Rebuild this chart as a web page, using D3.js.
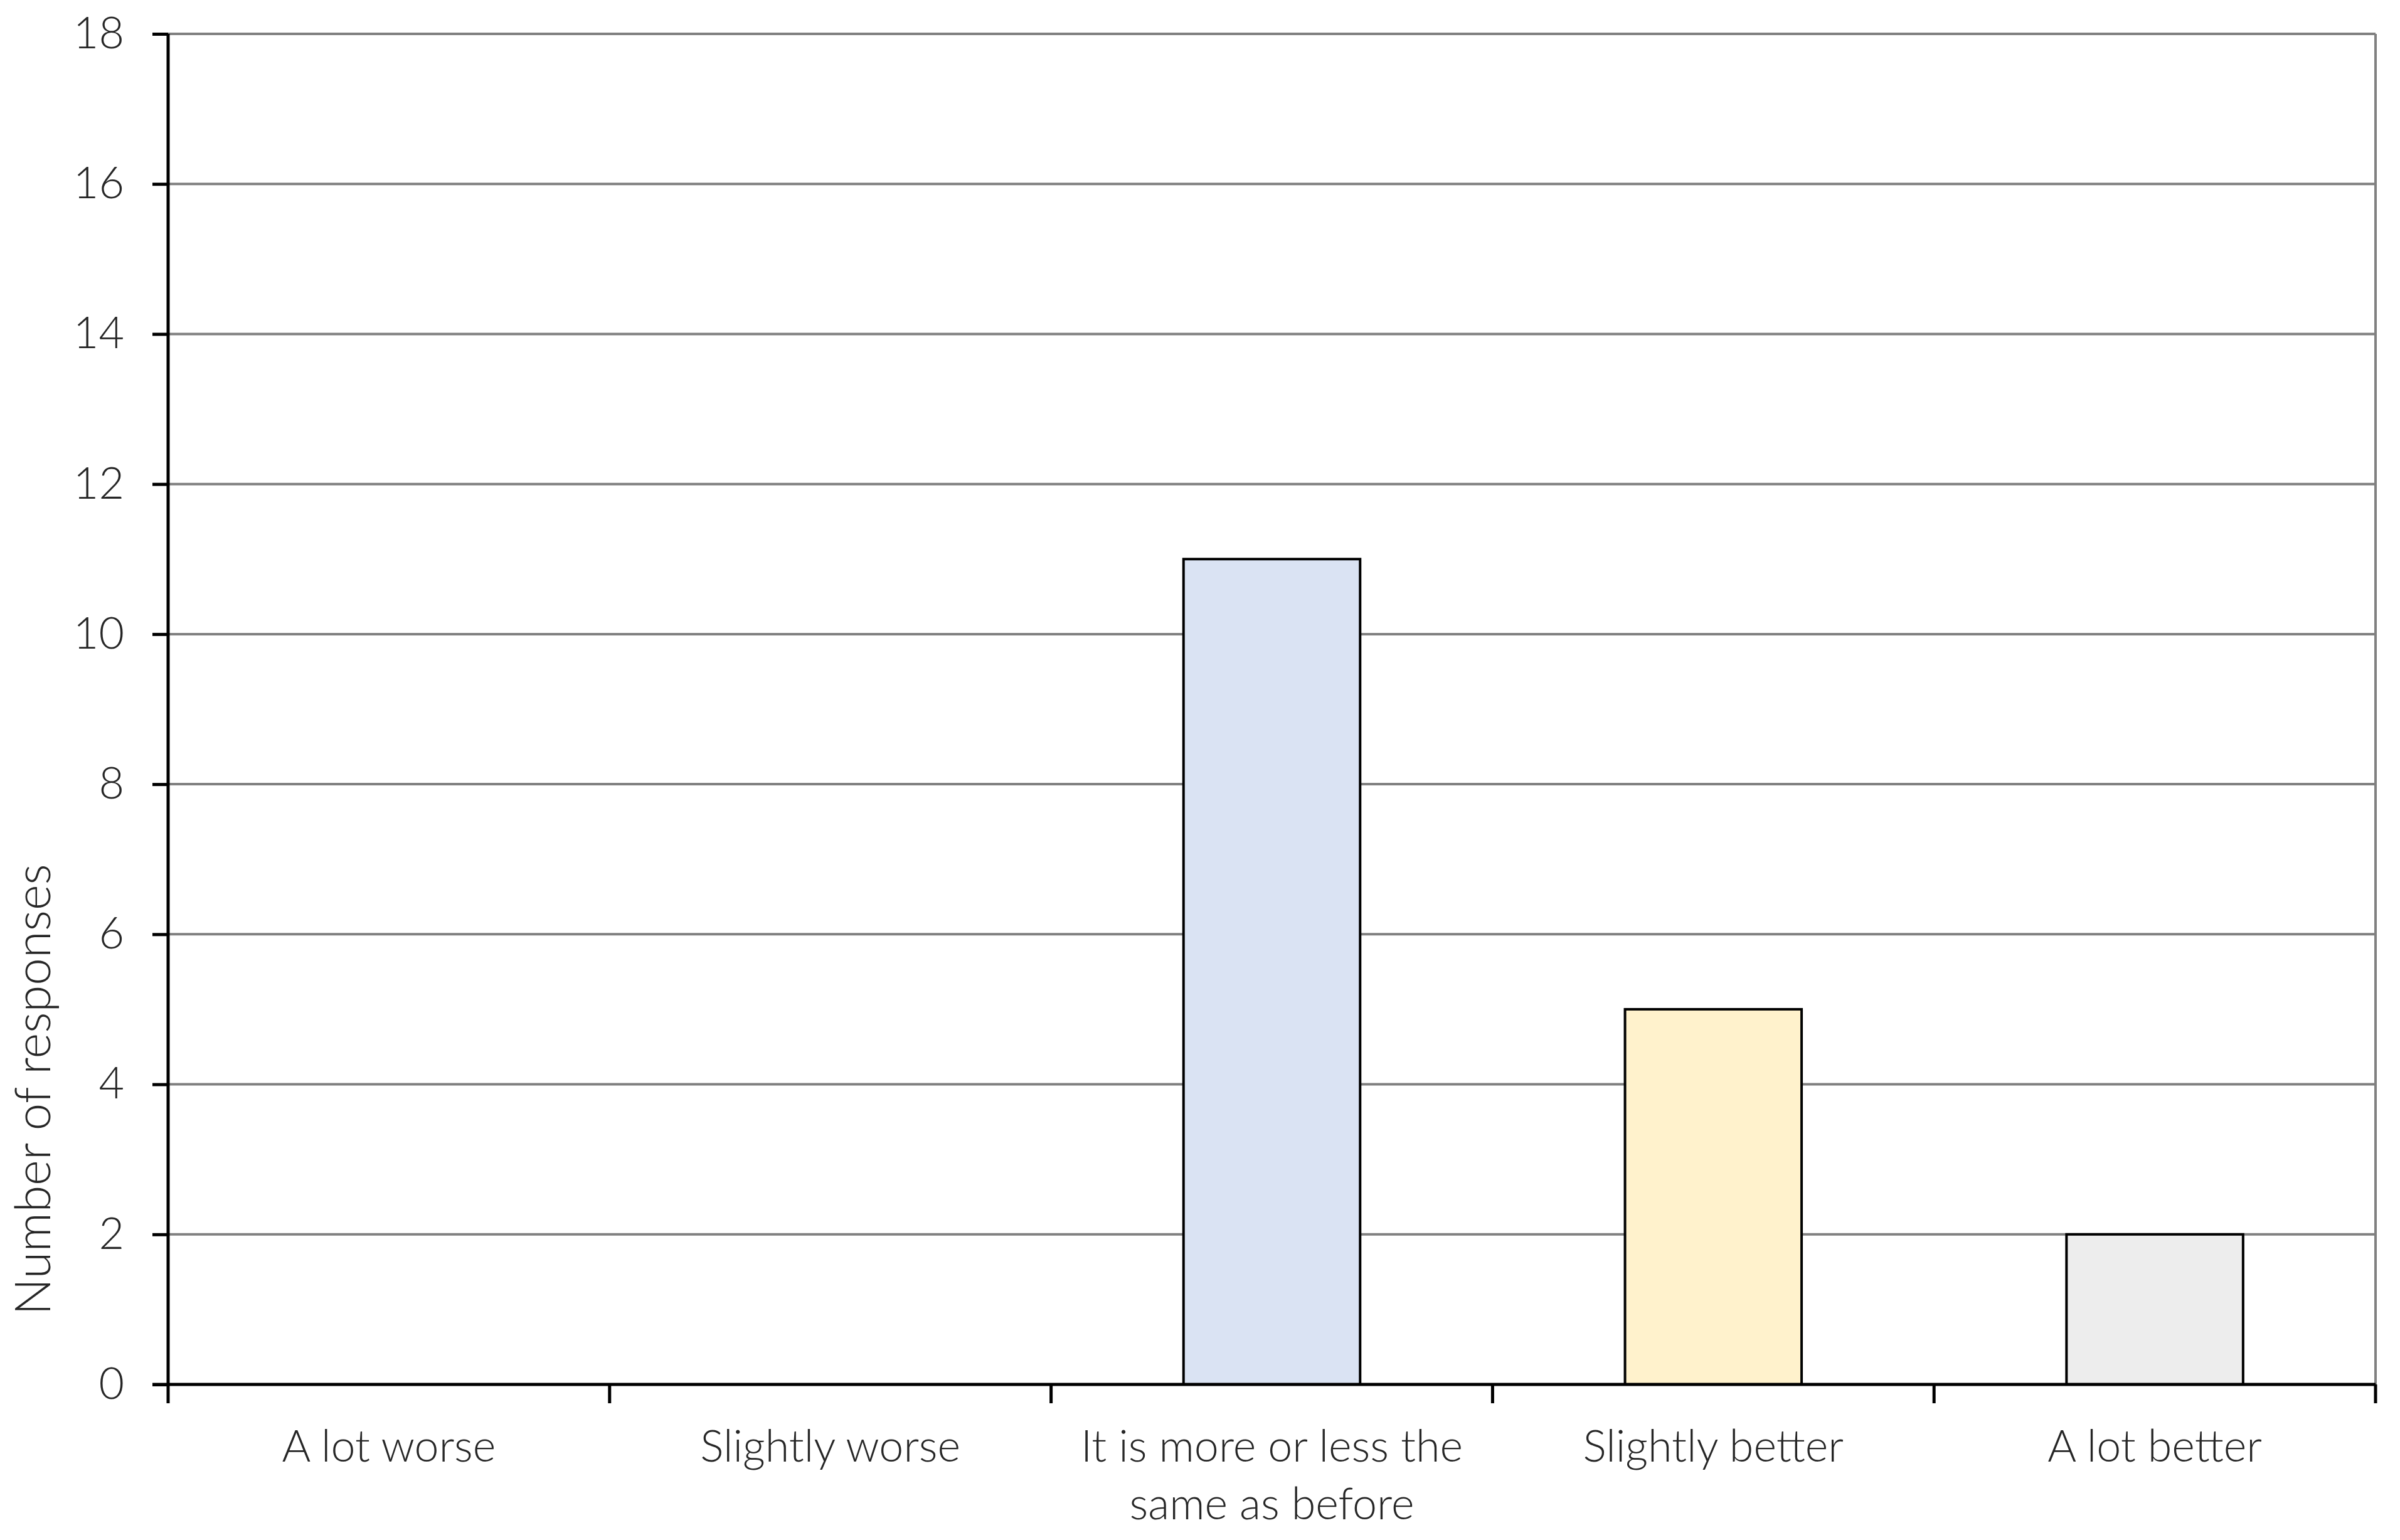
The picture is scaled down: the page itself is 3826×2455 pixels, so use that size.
<!DOCTYPE html>
<html>
<head>
<meta charset="utf-8">
<script src="https://cdn.jsdelivr.net/npm/d3@7"></script>
<style>
html,body{margin:0;padding:0;background:#fff;}
svg{display:block;}
text{font-family:Lato,"Open Sans","Liberation Sans",sans-serif;fill:#262626;font-weight:300;}
</style>
</head>
<body>
<script>
const categories = ["A lot worse","Slightly worse","It is more or less the same as before","Slightly better","A lot better"];
const values = [0, 0, 11, 5, 2];
const barColors = ["#DAE3F3","#DAE3F3","#DAE3F3","#FFF2CC","#EDEDED"];
const yTicks = [0,2,4,6,8,10,12,14,16,18];
const yTitle = "Number of responses";

const W = 3826, H = 2455;
const m = {left:268, right:W-3787, top:54, bottom:H-2207};
const iw = W - m.left - m.right, ih = H - m.top - m.bottom;

const svg = d3.select("body").append("svg").attr("width",W).attr("height",H);
svg.append("rect").attr("width",W).attr("height",H).attr("fill","#fff");
const g = svg.append("g").attr("transform",`translate(${m.left},${m.top})`);

const x = d3.scaleBand().domain(categories).range([0,iw]).paddingInner(0.6).paddingOuter(0.3);
const xb = d3.scaleBand().domain(categories).range([0,iw]);
const y = d3.scaleLinear().domain([0,18]).range([ih,0]);

// gridlines
g.append("g").selectAll("line").data(yTicks.filter(d=>d>0)).join("line")
  .attr("x1",0).attr("x2",iw).attr("y1",d=>y(d)).attr("y2",d=>y(d))
  .attr("stroke","#808080").attr("stroke-width",4);
// right border
g.append("line").attr("x1",iw).attr("x2",iw).attr("y1",0).attr("y2",ih)
  .attr("stroke","#808080").attr("stroke-width",4);

// bars
g.append("g").selectAll("rect").data(categories).join("rect")
  .attr("x",d=>x(d)).attr("width",x.bandwidth())
  .attr("y",(d,i)=>y(values[i])).attr("height",(d,i)=>y(0)-y(values[i]))
  .attr("fill",(d,i)=>barColors[i])
  .attr("stroke","#000").attr("stroke-width",4)
  .attr("display",(d,i)=>values[i]>0?null:"none");

// y axis
const yAxis = g.append("g").call(d3.axisLeft(y).tickValues(yTicks).tickSize(25).tickPadding(45).tickFormat(d3.format("d")));
yAxis.select(".domain").attr("stroke","#000").attr("stroke-width",5).attr("d",`M0,${ih}V0`);
yAxis.selectAll(".tick line").attr("stroke","#000").attr("stroke-width",5);
yAxis.selectAll(".tick text").attr("font-size",70).attr("fill","#262626").attr("font-family",null);

// x axis
const xAxisG = g.append("g").attr("transform",`translate(0,${ih})`);
xAxisG.append("line").attr("x1",-25).attr("x2",iw).attr("y1",0).attr("y2",0)
  .attr("stroke","#000").attr("stroke-width",5);
const bounds = categories.map(c=>xb(c)).concat([iw]);
xAxisG.selectAll("line.tk").data(bounds).join("line").attr("class","tk")
  .attr("x1",d=>d).attr("x2",d=>d).attr("y1",0).attr("y2",30)
  .attr("stroke","#000").attr("stroke-width",5);

const labels = xAxisG.selectAll("text.lab").data(categories).join("text").attr("class","lab")
  .attr("x",d=>xb(d)+xb.bandwidth()/2).attr("y",123)
  .attr("text-anchor","middle").attr("font-size",70);

function wrap(sel, maxW){
  sel.each(function(d){
    const t = d3.select(this);
    const words = d.split(" ");
    const xx = t.attr("x");
    let line = [];
    let tspan = t.text(null).append("tspan").attr("x",xx).attr("dy",0);
    for(const w of words){
      line.push(w);
      tspan.text(line.join(" "));
      if(tspan.node().getComputedTextLength() > maxW && line.length>1){
        line.pop(); tspan.text(line.join(" "));
        line=[w];
        tspan = t.append("tspan").attr("x",xx).attr("dy",92).text(w);
      }
    }
  });
}
labels.call(wrap, 660);

// y title
svg.append("text").attr("transform",`translate(80,1737) rotate(-90)`)
  .attr("text-anchor","middle").attr("font-size",78).text(yTitle);
</script>
</body>
</html>
